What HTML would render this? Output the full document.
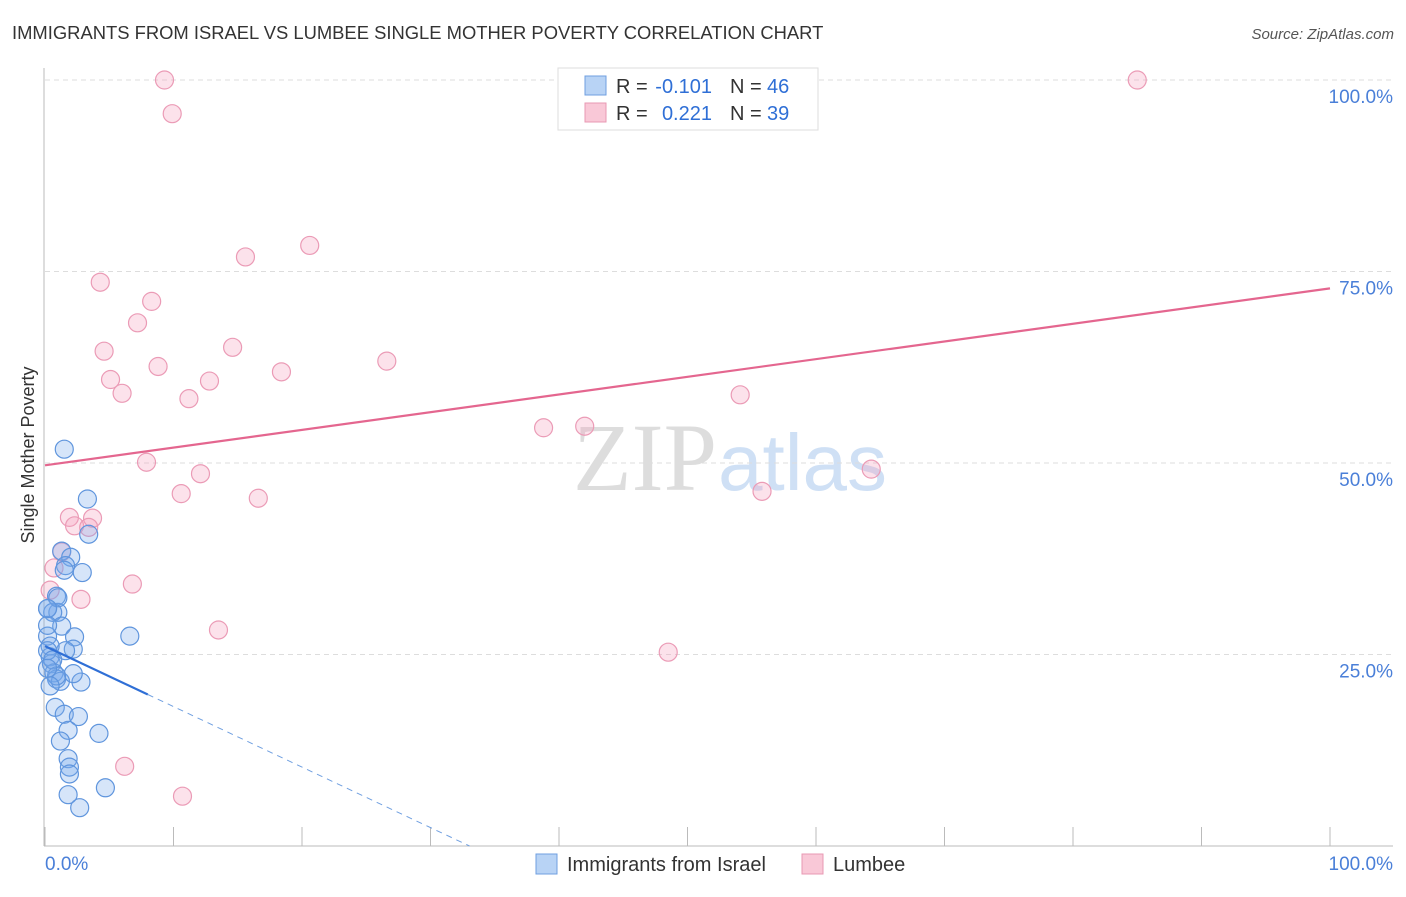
<!DOCTYPE html>
<html><head><meta charset="utf-8"><style>
body{margin:0;background:#fff;font-family:"Liberation Sans",sans-serif}
</style></head><body>
<svg id="c" width="1406" height="892" xmlns="http://www.w3.org/2000/svg" font-family="Liberation Sans, sans-serif">
<text x="12" y="39" font-size="18.4" fill="#333">IMMIGRANTS FROM ISRAEL VS LUMBEE SINGLE MOTHER POVERTY CORRELATION CHART</text>
<text x="1394" y="39" font-size="15" fill="#555" font-style="italic" text-anchor="end">Source: ZipAtlas.com</text>
<text x="717" y="490" font-size="96" fill="#ddd" text-anchor="end" font-family="Liberation Serif, serif">ZIP</text>
<text x="718" y="490" font-size="80" fill="#cfe0f5">atlas</text>
<g id="grid"></g><g id="pts"></g><g id="lines"></g>
<text transform="translate(34,455) rotate(-90)" font-size="18" fill="#333" text-anchor="middle">Single Mother Poverty</text>
<text x="45" y="870" font-size="19" fill="#4a7fd8">0.0%</text>
<text x="1393" y="870" font-size="19" fill="#4a7fd8" text-anchor="end">100.0%</text>
<g>
<rect x="558" y="68" width="260" height="62" fill="#fff" stroke="#ddd"/>
<rect x="585" y="76" width="21" height="19" fill="#b8d3f5" stroke="#6f9fe0"/>
<rect x="585" y="103" width="21" height="19" fill="#f9c8d7" stroke="#e899b3"/>
<text x="616" y="93" font-size="20" fill="#333">R =</text>
<text x="712" y="93" font-size="20" fill="#2f6fd6" text-anchor="end">-0.101</text>
<text x="730" y="93" font-size="20" fill="#333">N =</text>
<text x="767" y="93" font-size="20" fill="#2f6fd6">46</text>
<text x="616" y="120" font-size="20" fill="#333">R =</text>
<text x="712" y="120" font-size="20" fill="#2f6fd6" text-anchor="end">0.221</text>
<text x="730" y="120" font-size="20" fill="#333">N =</text>
<text x="767" y="120" font-size="20" fill="#2f6fd6">39</text>
</g>
<g>
<rect x="536" y="854" width="21" height="20" fill="#b8d3f5" stroke="#6f9fe0"/>
<text x="567" y="871" font-size="20" fill="#333">Immigrants from Israel</text>
<rect x="802" y="854" width="21" height="20" fill="#f9c8d7" stroke="#e899b3"/>
<text x="833" y="871" font-size="20" fill="#333">Lumbee</text>
</g>
</svg>
<script>
const yTicks=[25,50,75,100];
const yTickLabels=["25.0%","50.0%","75.0%","100.0%"];
const xTicks=[0,10,20,30,40,50,60,70,80,90,100];
const blueX=[1.5,3.3,3.4,1.3,2.0,1.6,2.9,0.9,0.2,1.0,0.6,1.3,0.2,2.3,6.6,2.2,1.6,0.4,0.4,0.5,0.7,0.9,1.2,2.8,2.2,0.8,1.5,2.6,1.8,4.2,1.2,1.8,1.9,1.9,1.8,4.7,2.7,0.2,0.2,0.6,0.9,0.2,1.0,1.5,0.2,0.4];
const blueY=[51.8,45.3,40.7,38.5,37.7,36.6,35.7,32.6,31.0,30.5,30.5,28.7,27.4,27.3,27.4,25.7,25.5,26.1,24.7,23.8,22.6,21.8,21.5,21.4,22.5,18.1,17.2,16.9,15.1,14.7,13.7,11.4,10.3,9.4,6.7,7.6,5.0,28.8,25.5,24.3,22.2,23.2,32.4,36.0,31.0,20.9];
const pinkX=[9.3,9.9,20.6,15.6,4.3,8.3,7.2,4.6,14.6,8.8,5.1,12.8,18.4,26.6,6.0,11.2,7.9,12.1,10.6,16.6,1.9,3.7,2.3,3.4,1.3,0.7,0.4,2.8,6.8,13.5,6.2,10.7,38.8,42.0,54.1,55.8,64.3,48.5,85.0];
const pinkY=[100,95.6,78.4,76.9,73.6,71.1,68.3,64.6,65.1,62.6,60.9,60.7,61.9,63.3,59.1,58.4,50.1,48.6,46.0,45.4,42.9,42.8,41.8,41.6,38.4,36.3,33.4,32.2,34.2,28.2,10.4,6.5,54.6,54.8,58.9,46.3,49.2,25.3,100];
const X=v=>45+v*12.85, Y=v=>846-v*7.66;
const NS="http://www.w3.org/2000/svg";
function mk(t,a,p){const e=document.createElementNS(NS,t);for(const k in a)e.setAttribute(k,a[k]);p.appendChild(e);return e;}
const g=document.getElementById('grid');
yTicks.forEach((v,i)=>{
 const l=mk('line',{x1:45,x2:1393,y1:Y(v),y2:Y(v),stroke:'#ddd','stroke-dasharray':'5,4'},g);
 
 
 const t=mk('text',{x:1393,y:Y(v)+23,'font-size':19,fill:'#4a7fd8','text-anchor':'end'},g);
 t.textContent=yTickLabels[i];
 
 
});
mk('line',{x1:44,x2:44,y1:68,y2:846,stroke:'#bbb'},g);
mk('line',{x1:44,x2:1393,y1:846,y2:846,stroke:'#bbb'},g);
xTicks.forEach(v=>{const l=mk('line',{x1:X(v),x2:X(v),y1:827,y2:846,stroke:'#bbb'},g);
 
 });
const p=document.getElementById('pts');
pinkX.forEach((x,i)=>{const c=mk('circle',{cx:X(x),cy:Y(pinkY[i]),r:9,fill:'rgba(245,160,190,0.3)',stroke:'#eb9bb6','stroke-width':1.2},p);
 
 });
blueX.forEach((x,i)=>{const c=mk('circle',{cx:X(x),cy:Y(blueY[i]),r:9,fill:'rgba(120,170,235,0.3)',stroke:'#5f95dd','stroke-width':1.2},p);
 
 });
const L=document.getElementById('lines');
const pinkA=49.7,pinkB=0.231,blueA=26.1,blueB=-0.79;
let e=mk('line',{x1:X(0),y1:Y(pinkA),x2:X(100),y2:Y(pinkA+pinkB*100),stroke:'#e4668f','stroke-width':2.2},L);


e=mk('line',{x1:X(0),y1:Y(blueA),x2:X(8),y2:Y(blueA+blueB*8),stroke:'#2f6fd6','stroke-width':2.2},L);


const xe=-blueA/blueB;
e=mk('line',{x1:X(8),y1:Y(blueA+blueB*8),x2:X(xe),y2:Y(0),stroke:'#6f9fe0','stroke-width':1,'stroke-dasharray':'6,5'},L);


</script>
</body></html>
